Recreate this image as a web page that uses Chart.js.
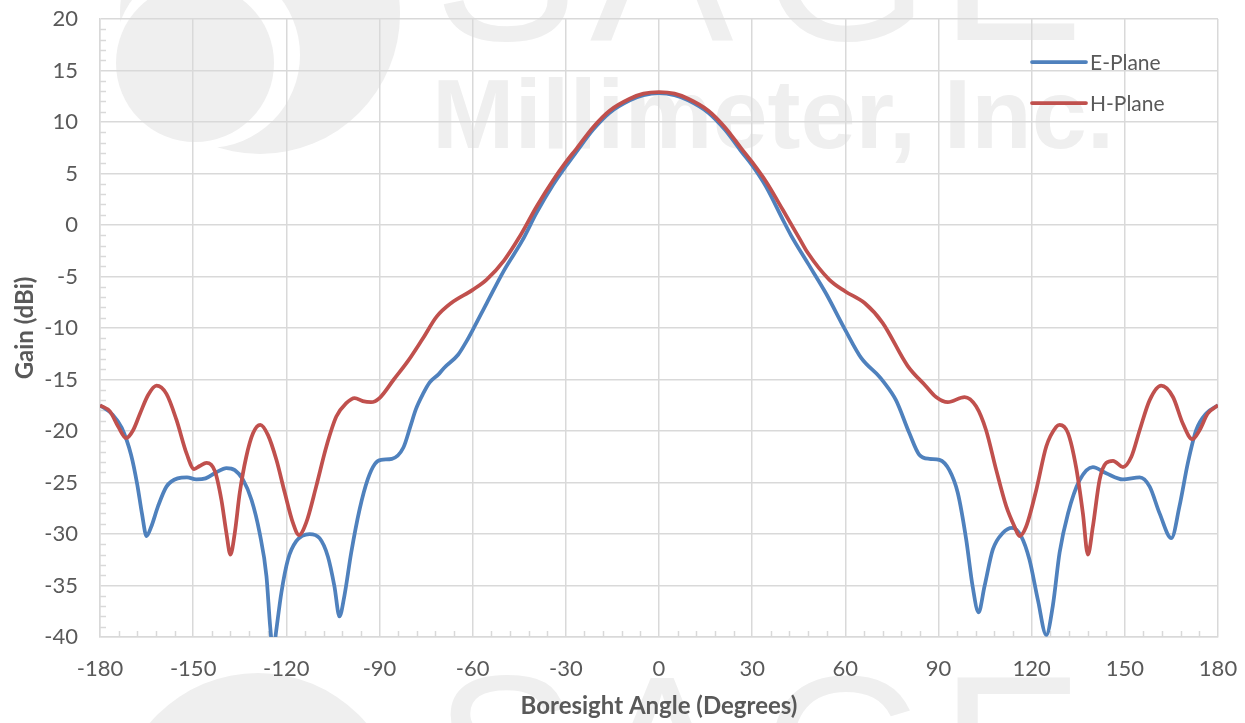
<!DOCTYPE html>
<html>
<head>
<meta charset="utf-8">
<title>E-Plane / H-Plane Gain</title>
<script src="https://cdn.jsdelivr.net/npm/chart.js@4.4.1/dist/chart.umd.min.js"></script>
<style>
  html, body { margin: 0; padding: 0; background: #ffffff; }
  #wrap { width: 1245px; height: 723px; }
</style>
</head>
<body>
<div id="wrap"><canvas id="c" width="1245" height="723"></canvas></div>
<script>
// Measured radiation pattern, angle in degrees, gain in dBi
const ePlaneAngles = [
  -180, -176, -173, -170, -168, -166.5, -165, -163.5, -161.3, -158.6, -155, -152, -149, -146, -142.5, -139.3,
  -136.6, -134, -131.2, -128.6, -126.4, -125.2, -124.2, -123.3, -121.6, -119.5, -116.8, -112.5, -109.3, -106.6,
  -104.5, -102.9, -101.3, -99.1, -96.4, -93.8, -91.5, -89.5, -86, -82.3, -80, -78.3, -76, -73.9, -71, -69.3,
  -64.7, -62, -60, -55.5, -49.8, -44, -39.4, -34.1, -30, -26.6, -21.2, -15.9, -9.4, -5, 0,
  5, 9.4, 15.9, 21.2, 26.6, 30.2, 34.5, 39.9, 42.5, 47.9, 53.7, 60, 65.1, 70.9, 72, 76.3, 80.6, 83.8, 87.1,
  90.3, 93.5, 96.2, 98.9, 101, 102.9, 104.8, 107.5, 110.7, 113.7, 116.6, 119.3, 122, 124.7, 126.8, 129,
  131.7, 135.4, 139.7, 144, 149.4, 154.8, 158, 161.2, 165, 167.6, 170.3, 173, 176.2, 180
];
const ePlaneGain = [
  -17.5, -18.4, -19.7, -22.3, -25.2, -28.0, -30.2, -29.3, -27.3, -25.4, -24.6, -24.5, -24.7, -24.6, -24.0, -23.6,
  -23.8, -24.7, -26.7, -29.9, -34.1, -39.0, -41.5, -39.5, -35.7, -32.5, -30.7, -30.0, -30.4, -32.2,
  -35.1, -38.0, -36.0, -31.8, -27.6, -24.7, -23.2, -22.8, -22.7, -21.6, -19.5, -17.9, -16.4, -15.3, -14.5, -13.9,
  -12.6, -11.3, -10.2, -7.6, -4.35, -1.5, 1.2, 3.9, 5.7, 7.1, 9.26, 10.9, 12.1, 12.6, 12.8,
  12.6, 12.1, 10.9, 9.26, 7.1, 5.7, 3.7, 0.5, -1.0, -3.7, -6.6, -10.2, -12.9, -14.7, -15.1, -17.0, -20.2, -22.3, -22.7,
  -22.8, -23.8, -26.0, -30.5, -35.1, -37.6, -35.1, -31.5, -29.9, -29.4, -30.2, -32.5, -36.4, -39.8, -37.0, -31.8,
  -28.0, -24.8, -23.5, -24.1, -24.7, -24.5, -25.4, -28.0, -30.4, -27.3, -23.1, -19.9, -18.3, -17.5
];

const hPlaneAngles = [
  -180, -176.8, -174.1, -171.6, -169.3, -167.1, -164.5, -161.8, -158.6, -155.4, -152.1, -149.7, -147.9, -145.7,
  -143, -140.9, -139.3, -138, -136.6, -135, -132.9, -130.7, -128.4, -125.9, -123.2, -120.5, -117.9, -115.9,
  -113.6, -110.4, -107.1, -103.9, -100.7, -98, -95.4, -92.7, -90, -85.4, -80.8, -76.2, -71.6, -67, -60, -55.5,
  -49.8, -44.8, -39.4, -34.1, -30, -26.6, -21.2, -15.9, -9.4, -5, 0,
  5, 9.4, 15.9, 21.2, 26.6, 30, 34.5, 39.9, 45.2, 47.9, 54.8, 60, 66.3, 72, 80.1, 85.8, 89.2, 93, 98.4, 102.1,
  105.3, 108.6, 111.8, 114.5, 116.1, 118.2, 121.5, 124.7, 127.9, 129, 131.7, 134.3, 136.5, 138.1, 139.7, 141.9,
  144, 146.2, 149.4, 152.1, 154.8, 158, 161.7, 165.5, 168.7, 171.7, 174.1, 176.7, 180
];
const hPlaneGain = [
  -17.5, -18.1, -19.6, -20.7, -19.9, -18.3, -16.5, -15.6, -16.4, -18.9, -22.2, -23.7, -23.4, -23.1,
  -23.9, -26.7, -29.9, -32.0, -29.9, -26.0, -22.5, -20.2, -19.4, -20.4, -22.8, -26.0, -28.9, -30.1,
  -28.9, -25.4, -21.5, -18.6, -17.3, -16.8, -17.1, -17.2, -16.8, -15.0, -13.2, -11.1, -8.9, -7.6, -6.3, -5.3,
  -3.4, -1.1, 1.8, 4.35, 6.1, 7.4, 9.5, 11.1, 12.26, 12.75, 12.9,
  12.75, 12.26, 11.1, 9.5, 7.4, 6.1, 4.2, 1.45, -1.3, -2.7, -5.3, -6.45, -7.6, -9.5, -13.7, -15.6, -16.7, -17.2, -16.7, -17.6,
  -19.9, -23.8, -27.3, -29.3, -30.2, -29.3, -25.7, -21.5, -19.6, -19.4, -20.2, -23.5, -28.0, -32.0, -29.3, -24.7,
  -23.1, -22.9, -23.5, -22.5, -19.9, -17.0, -15.6, -16.7, -19.3, -20.8, -19.9, -18.3, -17.5
];

const seriesNames = ['E-Plane', 'H-Plane'];
const angleTicks = [-180, -150, -120, -90, -60, -30, 0, 30, 60, 90, 120, 150, 180];
const gainTicks = [20, 15, 10, 5, 0, -5, -10, -15, -20, -25, -30, -35, -40];

const BLUE = '#4F81BD';
const RED = '#C0504D';
const GRID = '#d9d9d9';
const TEXT = '#595959';
const MARK = '#efefef';

Chart.defaults.font.family = 'Lato, "Open Sans", sans-serif';
Chart.defaults.color = TEXT;

function toPoints(xs, ys) {
  return xs.map((a, i) => ({ x: a, y: ys[i] }));
}

function disc(ctx, cx, cy, r) {
  ctx.beginPath();
  ctx.arc(cx, cy, r, 0, Math.PI * 2);
  ctx.fill();
}

// keep the plot rectangle fixed: no extra room reserved for edge labels
function noEdgePadding(s) {
  s.paddingTop = 0;
  s.paddingBottom = 0;
  s.paddingLeft = 0;
  s.paddingRight = 0;
}

// Company watermark painted behind the plot
const watermark = {
  id: 'watermark',
  beforeDraw(chart) {
    const ctx = chart.ctx;
    ctx.save();
    ctx.fillStyle = '#ffffff';
    ctx.fillRect(0, 0, chart.width, chart.height);

    // logo discs, upper copy
    ctx.fillStyle = MARK; disc(ctx, 260, 14, 140);
    ctx.fillStyle = '#ffffff'; disc(ctx, 207, 55, 93);
    ctx.fillStyle = MARK; disc(ctx, 195, 63, 79);
    // logo disc, lower copy
    disc(ctx, 258, 815, 142);

    // SAGE lettering, upper and lower copies
    ctx.font = '215px "Liberation Sans"';
    ctx.textBaseline = 'alphabetic';
    ctx.textAlign = 'left';
    const letters = ['S', 'A', 'G', 'E'];
    const inkLeft = [443, 590, 772, 957];
    letters.forEach((ch, i) => {
      const m = ctx.measureText(ch);
      const x = inkLeft[i] + m.actualBoundingBoxLeft;
      ctx.fillText(ch, x, 40);
      ctx.fillText(ch, x, 826);
    });

    ctx.font = 'bold 99px "Liberation Sans"';
    const t = 'Millimeter, Inc.';
    const mt = ctx.measureText(t);
    ctx.fillText(t, 438 + mt.actualBoundingBoxLeft, 148);
    ctx.restore();
  }
};

// Minor tick marks along both axes
const minorTicks = {
  id: 'minorTicks',
  beforeDatasetsDraw(chart) {
    const { ctx, chartArea: a, scales: { x, y } } = chart;
    ctx.save();
    ctx.strokeStyle = GRID;
    ctx.lineWidth = 1.5;
    ctx.beginPath();
    for (let v = -180; v <= 180; v += 6) {
      if (v % 30 === 0) continue;
      const px = Math.round(x.getPixelForValue(v)) + 0.5;
      ctx.moveTo(px, a.bottom);
      ctx.lineTo(px, a.bottom - 6);
    }
    for (let v = -40; v <= 20; v += 1) {
      if (v % 5 === 0) continue;
      const py = Math.round(y.getPixelForValue(v)) + 0.5;
      ctx.moveTo(a.left, py);
      ctx.lineTo(a.left + 6, py);
    }
    ctx.stroke();
    ctx.restore();
  }
};

// Legend in the upper right corner of the plot
const cornerLegend = {
  id: 'cornerLegend',
  afterDraw(chart) {
    const { ctx, chartArea: a } = chart;
    ctx.save();
    ctx.font = '21px Lato, "Open Sans", sans-serif';
    ctx.textBaseline = 'middle';
    ctx.textAlign = 'left';
    chart.data.datasets.forEach((ds, i) => {
      const yy = a.top + 43 + i * 41;
      const x0 = a.right - 186;
      ctx.strokeStyle = ds.borderColor;
      ctx.lineWidth = 3.75;
      ctx.lineCap = 'round';
      ctx.beginPath();
      ctx.moveTo(x0, yy);
      ctx.lineTo(x0 + 54, yy);
      ctx.stroke();
      ctx.fillStyle = TEXT;
      ctx.fillText(ds.label, x0 + 58, yy + 1);
    });
    ctx.restore();
  }
};

const ctx = document.getElementById('c').getContext('2d');
new Chart(ctx, {
  type: 'line',
  data: {
    datasets: [
      {
        label: seriesNames[0],
        data: toPoints(ePlaneAngles, ePlaneGain),
        borderColor: BLUE,
        borderWidth: 3.75,
        pointRadius: 0,
        fill: false,
        cubicInterpolationMode: 'monotone',
        order: 1
      },
      {
        label: seriesNames[1],
        data: toPoints(hPlaneAngles, hPlaneGain),
        borderColor: RED,
        borderWidth: 3.75,
        pointRadius: 0,
        fill: false,
        cubicInterpolationMode: 'monotone',
        order: 0
      }
    ]
  },
  options: {
    responsive: false,
    animation: false,
    devicePixelRatio: 1,
    layout: { padding: { left: 0, top: 19, right: 27, bottom: 0 } },
    plugins: {
      legend: { display: false },
      tooltip: { enabled: false }
    },
    scales: {
      x: {
        type: 'linear',
        min: -180,
        max: 180,
        afterBuildTicks(s) { s.ticks = angleTicks.map(v => ({ value: v })); },
        afterFit(s) { s.height = 86; noEdgePadding(s); },
        ticks: {
          font: { size: 22 },
          color: TEXT,
          padding: 19,
          maxRotation: 0,
          autoSkip: false
        },
        grid: { color: GRID, lineWidth: 1.5, drawTicks: false },
        border: { color: GRID, width: 1.5 },
        title: {
          display: true,
          text: 'Boresight Angle (Degrees)',
          color: TEXT,
          font: { size: 24, weight: 'bold' },
          padding: { top: 0, bottom: 2 }
        }
      },
      y: {
        type: 'linear',
        min: -40,
        max: 20,
        afterBuildTicks(s) { s.ticks = gainTicks.map(v => ({ value: v })); },
        afterFit(s) { s.width = 100; noEdgePadding(s); },
        ticks: {
          font: { size: 22 },
          color: TEXT,
          padding: 22,
          autoSkip: false
        },
        grid: { color: GRID, lineWidth: 1.5, drawTicks: false },
        border: { color: GRID, width: 1.5 },
        title: {
          display: true,
          text: 'Gain (dBi)',
          color: TEXT,
          font: { size: 24, weight: 'bold' },
          padding: { top: 11, bottom: 0 }
        }
      }
    }
  },
  plugins: [watermark, minorTicks, cornerLegend]
});
</script>
</body>
</html>
